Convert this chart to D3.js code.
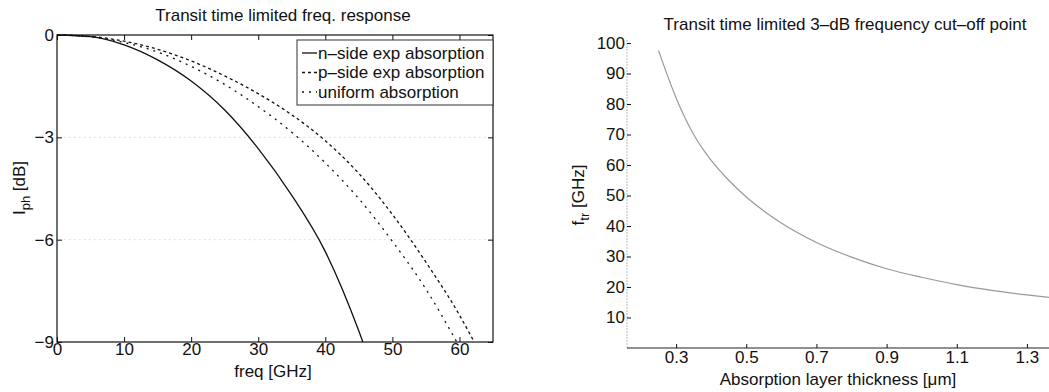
<!DOCTYPE html>
<html>
<head>
<meta charset="utf-8">
<script src="https://cdn.jsdelivr.net/npm/d3@7"></script>
<style>
  body { margin: 0; background: #fff; }
  svg { display: block; }
  text { font-family: "Liberation Sans", Arial, sans-serif; fill: #111; }
</style>
</head>
<body>
<script>

// left plot: transit time limited freq. response
var freqTicks = [0, 10, 20, 30, 40, 50, 60];
var dbTicks = [0, -3, -6, -9];

var nFreq = [0, 5, 10, 15, 20, 25, 30, 35, 40, 45, 45.6];
var nDb = [0, -0.05, -0.29, -0.73, -1.35, -2.2, -3.33, -4.7, -6.35, -8.68, -9];

var pFreq = [0, 5, 10, 15, 20, 25, 30, 35, 40, 45, 50, 55, 60, 62.2];
var pDb = [0, -0.04, -0.18, -0.42, -0.76, -1.2, -1.72, -2.34, -3.1, -4.06, -5.26, -6.66, -8.21, -9];

var uFreq = [0, 5, 10, 15, 20, 25, 30, 35, 40, 45, 50, 55, 59.6];
var uDb = [0, -0.05, -0.22, -0.5, -0.92, -1.45, -2.1, -2.85, -3.75, -4.8, -6.05, -7.45, -9];

var legendNames = ["n\u2013side exp absorption", "p\u2013side exp absorption", "uniform absorption"];

// right plot: 3-dB cut-off vs thickness
var thickTicks = [0.3, 0.5, 0.7, 0.9, 1.1, 1.3];
var cutoffTicks = [10, 20, 30, 40, 50, 60, 70, 80, 90, 100];
var thickness = [0.25, 0.3, 0.35, 0.4, 0.45, 0.5, 0.6, 0.7, 0.8, 0.9, 1.0, 1.1, 1.2, 1.3, 1.4];
var cutoff = [97.5, 82, 70, 61.5, 55, 49.5, 41, 34.6, 29.8, 26, 23.2, 20.8, 18.9, 17.4, 16.1];


var w = 1049;
var h = 392;
var fs = 17;

var svg = d3.select("body")
    .append("svg")
    .attr("width", w)
    .attr("height", h);

function zip(xs, ys) {
    return xs.map(function (x, i) { return { x: x, y: ys[i] }; });
}

function styleAxis(g) {
    g.attr("font-family", "Liberation Sans, Arial, sans-serif")
        .attr("font-size", fs);
    g.selectAll("line").attr("stroke", "#111");
    g.select(".domain").remove();
}

/* ---------- left chart ---------- */
var x1 = d3.scaleLinear().domain([0, 65]).range([57, 493]);
var y1 = d3.scaleLinear().domain([-9, 0]).range([342, 35]);

// faint grid lines (scan look)
svg.selectAll(".grid")
    .data([-3, -6])
    .enter()
    .append("line")
    .attr("class", "grid")
    .attr("x1", x1(1))
    .attr("x2", x1(65))
    .attr("y1", function (d) { return y1(d); })
    .attr("y2", function (d) { return y1(d); })
    .attr("stroke", "#dcdcdc")
    .attr("stroke-dasharray", "2,3");

svg.append("g")
    .attr("transform", "translate(0," + y1(-9) + ")")
    .call(d3.axisBottom(x1).tickValues(freqTicks).tickSizeInner(-5).tickSizeOuter(0).tickPadding(1))
    .call(styleAxis);

svg.append("g")
    .attr("transform", "translate(0," + y1(0) + ")")
    .call(d3.axisTop(x1).tickValues(freqTicks).tickSizeInner(-5).tickSizeOuter(0).tickFormat(""))
    .call(styleAxis);

svg.append("g")
    .attr("transform", "translate(" + x1(0) + ",0)")
    .call(d3.axisLeft(y1).tickValues(dbTicks).tickSizeInner(-5).tickSizeOuter(0).tickPadding(3)
        .tickFormat(function (d) { return d == 0 ? "0" : "\u2212" + Math.abs(d); }))
    .call(styleAxis);

svg.append("g")
    .attr("transform", "translate(" + x1(65) + ",0)")
    .call(d3.axisRight(y1).tickValues(dbTicks).tickSizeInner(-5).tickSizeOuter(0).tickFormat(""))
    .call(styleAxis);

svg.append("rect")
    .attr("x", x1(0))
    .attr("y", y1(0))
    .attr("width", x1(65) - x1(0))
    .attr("height", y1(-9) - y1(0))
    .attr("fill", "none")
    .attr("stroke", "#111")
    .attr("stroke-width", 1.2);

var line1 = d3.line()
    .x(function (d) { return x1(d.x); })
    .y(function (d) { return y1(d.y); })
    .curve(d3.curveMonotoneX);

var series = [
    { data: zip(nFreq, nDb), dash: null },
    { data: zip(pFreq, pDb), dash: "3,3" },
    { data: zip(uFreq, uDb), dash: "2,5" }
];

svg.selectAll(".curve")
    .data(series)
    .enter()
    .append("path")
    .attr("class", "curve")
    .attr("d", function (d) { return line1(d.data); })
    .attr("fill", "none")
    .attr("stroke", "#111")
    .attr("stroke-width", 1.3)
    .attr("stroke-dasharray", function (d) { return d.dash; });

// legend
svg.append("rect")
    .attr("x", 297)
    .attr("y", 40)
    .attr("width", x1(65) - 297)
    .attr("height", 65)
    .attr("fill", "#fff")
    .attr("stroke", "#333");

var leg = svg.selectAll(".leg")
    .data(series)
    .enter()
    .append("g")
    .attr("class", "leg")
    .attr("transform", function (d, i) { return "translate(302," + (53 + i * 19.5) + ")"; });

leg.append("line")
    .attr("x1", 0)
    .attr("x2", 15)
    .attr("stroke", "#111")
    .attr("stroke-width", 1.3)
    .attr("stroke-dasharray", function (d) { return d.dash; });

leg.append("text")
    .attr("x", 16)
    .attr("dy", "0.35em")
    .attr("font-size", fs)
    .text(function (d, i) { return legendNames[i]; });

svg.append("text")
    .attr("x", 283)
    .attr("y", 21)
    .attr("text-anchor", "middle")
    .attr("font-size", fs)
    .text("Transit time limited freq. response");

svg.append("text")
    .attr("x", 273)
    .attr("y", 377)
    .attr("text-anchor", "middle")
    .attr("font-size", fs)
    .text("freq [GHz]");

var yl = svg.append("text")
    .attr("transform", "translate(25,188)rotate(-90)")
    .attr("text-anchor", "middle")
    .attr("font-size", fs);
yl.append("tspan").text("I");
yl.append("tspan").attr("font-size", 13).attr("dy", 5).text("ph");
yl.append("tspan").attr("dy", -5).text(" [dB]");

/* ---------- right chart ---------- */
var x2 = d3.scaleLinear().domain([0.16, 1.4]).range([627, 1062]);
var y2 = d3.scaleLinear().domain([0, 101]).range([348, 40]);

svg.append("line")
    .attr("x1", x2(0.16))
    .attr("x2", x2(0.16))
    .attr("y1", y2(0))
    .attr("y2", y2(101))
    .attr("stroke", "#bbb")
    .attr("stroke-dasharray", "2,1");

svg.append("line")
    .attr("x1", x2(0.16))
    .attr("x2", w)
    .attr("y1", y2(0))
    .attr("y2", y2(0))
    .attr("stroke", "#222")
    .attr("stroke-width", 1.2);

svg.append("g")
    .attr("transform", "translate(0," + y2(0) + ")")
    .call(d3.axisBottom(x2).tickValues(thickTicks).tickSizeInner(-4).tickSizeOuter(0).tickPadding(3))
    .call(styleAxis);

svg.append("g")
    .attr("transform", "translate(" + x2(0.16) + ",0)")
    .call(d3.axisLeft(y2).tickValues(cutoffTicks).tickSizeInner(-4).tickSizeOuter(0).tickPadding(2))
    .call(styleAxis);

var line2 = d3.line()
    .x(function (d) { return x2(d.x); })
    .y(function (d) { return y2(d.y); })
    .curve(d3.curveMonotoneX);

svg.append("path")
    .attr("d", line2(zip(thickness, cutoff)))
    .attr("fill", "none")
    .attr("stroke", "#999")
    .attr("stroke-width", 1.2);

svg.append("text")
    .attr("x", 845)
    .attr("y", 30)
    .attr("text-anchor", "middle")
    .attr("font-size", fs)
    .text("Transit time limited 3\u2013dB frequency cut\u2013off point");

svg.append("text")
    .attr("x", 838)
    .attr("y", 385)
    .attr("text-anchor", "middle")
    .attr("font-size", fs)
    .text("Absorption layer thickness [\u03bcm]");

var yl2 = svg.append("text")
    .attr("transform", "translate(584,195)rotate(-90)")
    .attr("text-anchor", "middle")
    .attr("font-size", fs);
yl2.append("tspan").text("f");
yl2.append("tspan").attr("font-size", 13).attr("dy", 5).text("tr");
yl2.append("tspan").attr("dy", -5).text(" [GHz]");

</script>
</body>
</html>
